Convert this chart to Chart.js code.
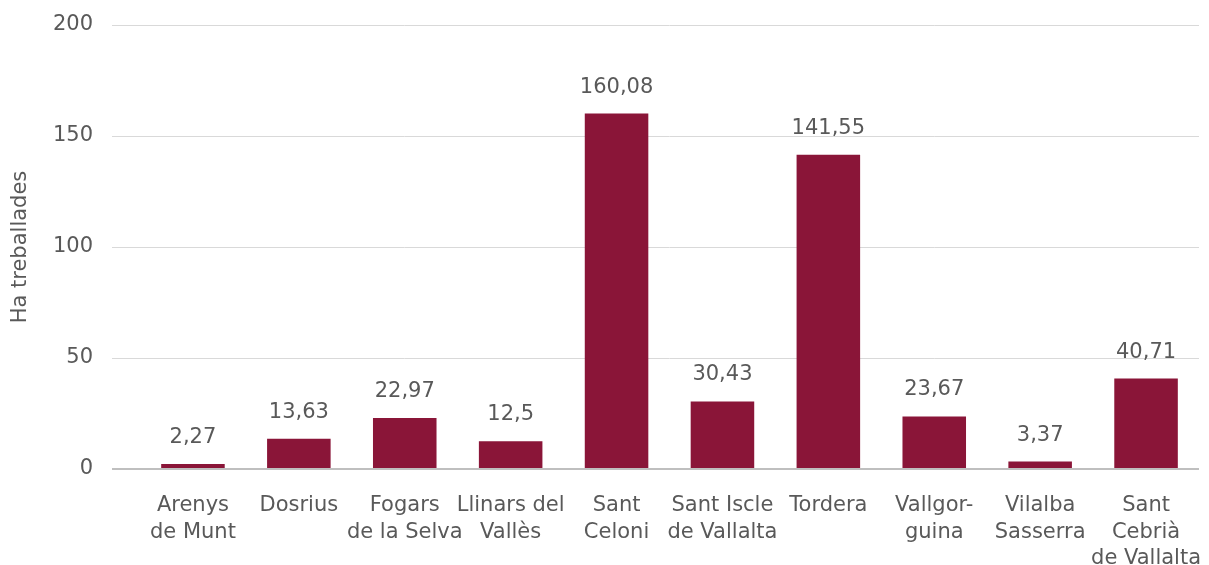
<!DOCTYPE html>
<html>
<head>
<meta charset="utf-8">
<script src="https://cdn.jsdelivr.net/npm/chart.js@4/dist/chart.umd.min.js"></script>
<style>
  html, body { margin: 0; padding: 0; background: #fff; }
  #wrap { width: 1209px; height: 565px; position: relative; }
</style>
</head>
<body>
<div id="wrap"><canvas id="chart"></canvas></div>
<script>
// Hectàrees treballades per municipi
const municipis = [
  ['Arenys', 'de Munt'],
  'Dosrius',
  ['Fogars', 'de la Selva'],
  ['Llinars del', 'Vallès'],
  ['Sant', 'Celoni'],
  ['Sant Iscle', 'de Vallalta'],
  'Tordera',
  ['Vallgor-', 'guina'],
  ['Vilalba', 'Sasserra'],
  ['Sant', 'Cebrià', 'de Vallalta']
];
const hectarees = [2.27, 13.63, 22.97, 12.5, 160.08, 30.43, 141.55, 23.67, 3.37, 40.71];
const yTicks = [0, 50, 100, 150, 200];

const GRIS = '#595959';
const GRANATE = '#8a1538';
const FONT = 'DejaVu Sans, Verdana, sans-serif';
const MIDA = 21;

const fmt = v => String(v).replace('.', ',');

// valors damunt de cada barra
const etiquetes = {
  id: 'etiquetes',
  afterDatasetsDraw(chart) {
    const ctx = chart.ctx;
    const meta = chart.getDatasetMeta(0);
    ctx.save();
    ctx.font = MIDA + 'px ' + FONT;
    ctx.fillStyle = GRIS;
    ctx.textAlign = 'center';
    ctx.textBaseline = 'alphabetic';
    meta.data.forEach((bar, i) => {
      ctx.fillText(fmt(hectarees[i]), bar.x, bar.y - 21);
    });
    ctx.restore();
  }
};

new Chart(document.getElementById('chart'), {
  type: 'bar',
  data: {
    labels: municipis,
    datasets: [{
      data: hectarees,
      backgroundColor: GRANATE,
      barPercentage: 0.6,
      categoryPercentage: 1
    }]
  },
  options: {
    responsive: true,
    maintainAspectRatio: false,
    animation: false,
    layout: { padding: { top: 25, right: 10, left: 0, bottom: 0 } },
    plugins: {
      legend: { display: false },
      tooltip: { enabled: false }
    },
    scales: {
      x: {
        grid: { display: false },
        border: { display: false },
        ticks: {
          color: GRIS,
          font: { family: FONT, size: MIDA, lineHeight: 1.24 },
          padding: 16,
          maxRotation: 0,
          autoSkip: false
        },
        afterFit(scale) {
          scale.height = 96;
          scale.paddingLeft = 0;
          scale.paddingRight = 0;
        }
      },
      y: {
        min: 0,
        max: 200,
        afterBuildTicks(scale) { scale.ticks = yTicks.map(v => ({ value: v })); },
        grid: {
          color: ctx => ctx.tick && ctx.tick.value === 0 ? '#bfbfbf' : '#d9d9d9',
          lineWidth: ctx => ctx.tick && ctx.tick.value === 0 ? 2 : 1,
          drawTicks: true,
          tickLength: 28
        },
        border: { display: false },
        ticks: {
          color: GRIS,
          font: { family: FONT, size: MIDA },
          padding: 19
        },
        title: {
          display: true,
          text: 'Ha treballades',
          color: GRIS,
          font: { family: FONT, size: MIDA },
          padding: { top: 8, bottom: 0 }
        },
        afterFit(scale) {
          scale.width = 140;
          scale.paddingTop = 0;
          scale.paddingBottom = 0;
        }
      }
    }
  },
  plugins: [etiquetes]
});
</script>
</body>
</html>
